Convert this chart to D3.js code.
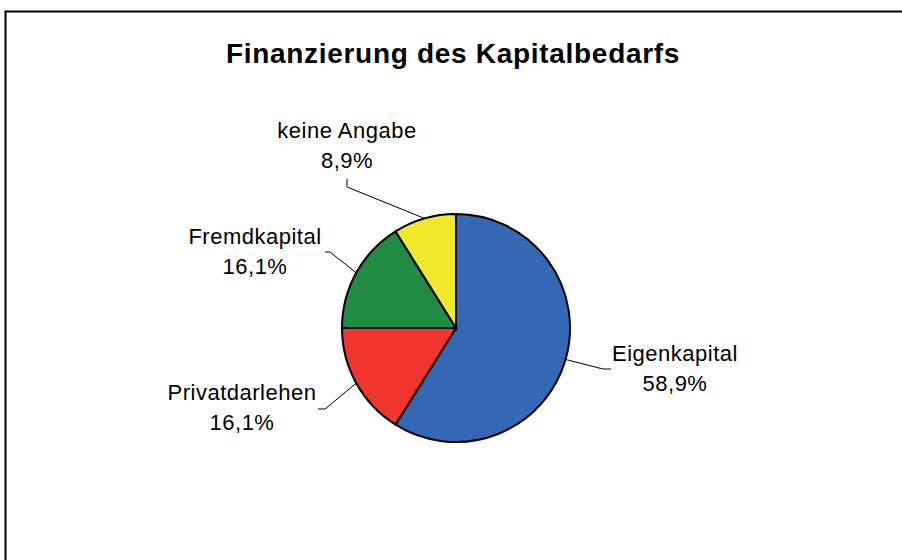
<!DOCTYPE html>
<html>
<head>
<meta charset="utf-8">
<script src="https://cdn.jsdelivr.net/npm/d3@7"></script>
<style>
  body { margin: 0; background: #fff; }
  svg { display: block; font-family: "Liberation Sans", Arial, sans-serif; }
  .slice { stroke: #000; stroke-width: 2; }
  .leader { fill: none; stroke: #000; stroke-width: 1; }
  .label { font-size: 22px; letter-spacing: 0.5px; fill: #000; }
</style>
</head>
<body>
<svg id="chart" width="902" height="560"></svg>
<script>
// Daten
const categories = ['Eigenkapital', 'Privatdarlehen', 'Fremdkapital', 'keine Angabe'];
const values = [58.9, 16.1, 16.1, 8.9];
const valueLabels = ['58,9%', '16,1%', '16,1%', '8,9%'];
const colors = ['#3468B4', '#EF352D', '#218A43', '#F0E82B'];

// Layout
const cx = 456, cy = 328, r = 114;
// Beschriftungsposition (Mitte, Grundlinie erste Zeile) und Knickpunkt der Führungslinie
const labelPos = [
  { x: 675, y: 361, knee: [603, 369], end: [611, 369] },
  { x: 242, y: 400, knee: [325, 409], end: [318, 409] },
  { x: 255, y: 244, knee: [330, 252], end: [325, 252] },
  { x: 347, y: 138, knee: [347, 187], end: [347, 179] }
];

const svg = d3.select('#chart');

// Rahmen (nur links/oben sichtbar)
svg.append('rect')
  .attr('x', 5.5).attr('y', 11.5)
  .attr('width', 1000).attr('height', 1000)
  .attr('fill', 'none').attr('stroke', '#000').attr('stroke-width', 2);

svg.append('text')
  .attr('x', 453).attr('y', 63)
  .attr('text-anchor', 'middle')
  .attr('font-size', '28px').attr('font-weight', 'bold')
  .attr('letter-spacing', '0.7px')
  .text('Finanzierung des Kapitalbedarfs');

const pie = d3.pie().sort(null).value(d => d);
const arcs = pie(values);
const arc = d3.arc().innerRadius(0).outerRadius(r);

const g = svg.append('g').attr('transform', `translate(${cx},${cy})`);

g.selectAll('path.slice').data(arcs).enter().append('path')
  .attr('class', 'slice')
  .attr('fill', (d, i) => colors[i])
  .attr('d', arc);

// Führungslinien
const edge = d => {
  const a = (d.startAngle + d.endAngle) / 2;
  return [cx + r * Math.sin(a), cy - r * Math.cos(a)];
};
svg.selectAll('path.leader').data(arcs).enter().append('path')
  .attr('class', 'leader')
  .attr('d', (d, i) => d3.line()([edge(d), labelPos[i].knee, labelPos[i].end]));

// Beschriftungen
const lbl = svg.selectAll('text.label').data(arcs).enter().append('text')
  .attr('class', 'label')
  .attr('text-anchor', 'middle')
  .attr('x', (d, i) => labelPos[i].x)
  .attr('y', (d, i) => labelPos[i].y);
lbl.append('tspan').text((d, i) => categories[i]);
lbl.append('tspan')
  .attr('x', (d, i) => labelPos[i].x)
  .attr('dy', 30)
  .text((d, i) => valueLabels[i]);
</script>
</body>
</html>
